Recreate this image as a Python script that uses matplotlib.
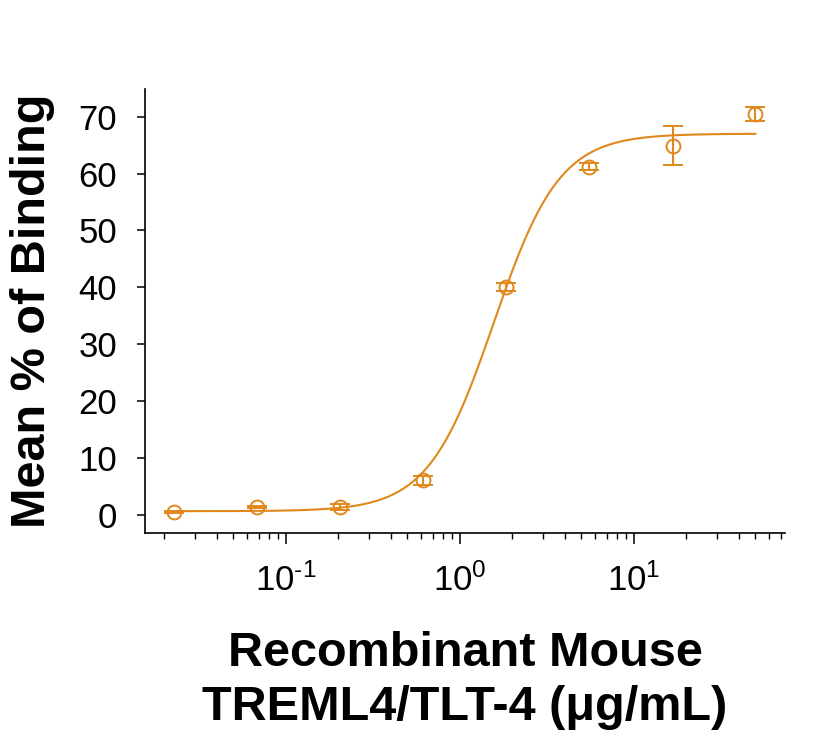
import numpy as np
import matplotlib
matplotlib.use("Agg")
import matplotlib.pyplot as plt
from matplotlib.ticker import LogLocator, FixedLocator, NullFormatter

plt.rcParams['font.family'] = ['Liberation Sans', 'DejaVu Sans']
plt.rcParams['mathtext.fontset'] = 'custom'
plt.rcParams['mathtext.rm'] = 'Liberation Sans'
plt.rcParams['mathtext.it'] = 'Liberation Sans'
plt.rcParams['mathtext.default'] = 'regular'

# data (3-fold dilution from 50 ug/mL)
conc = [0.0229, 0.0686, 0.206, 0.617, 1.85, 5.56, 16.7, 50.0]
binding = [0.5, 1.4, 1.3, 6.0, 40.1, 61.2, 64.9, 70.5]
err = [0.2, 0.2, 0.5, 0.8, 0.7, 0.6, 3.4, 1.2]
xtick_vals = [0.1, 1, 10]
xtick_labels = ['$10^{\u2010 1}$', '$10^{0}$', '$10^{1}$']

# 4PL fit parameters
bottom = 0.6
top = 67.0
ec50 = 1.57
hill = 2.3

color = '#E0881C'

fig = plt.figure(figsize=(8.23, 7.40), dpi=100)
ax = fig.add_axes([0.176, 0.280, 0.778, 0.600])

xs = np.logspace(np.log10(conc[0]), np.log10(conc[-1]), 300)
ys = bottom + (top - bottom) / (1 + (ec50 / xs) ** hill)
ax.plot(xs, ys, color=color, lw=1.5)

ax.errorbar(conc, binding, yerr=err, fmt='o', mfc='none', mec=color,
            ecolor=color, ms=10, mew=1.4, elinewidth=1.5, capsize=7, capthick=1.5)

ax.set_xscale('log')
ax.set_xlim(10 ** -1.81, 10 ** 1.87)
ax.set_ylim(-3.2, 74.9)

ax.xaxis.set_major_locator(FixedLocator(xtick_vals))
ax.set_xticklabels(xtick_labels)
ax.xaxis.set_minor_locator(LogLocator(base=10, subs=np.arange(2, 10)))
ax.xaxis.set_minor_formatter(NullFormatter())
ax.set_yticks(range(0, 80, 10))

for s in ['top', 'right']:
    ax.spines[s].set_visible(False)
for s in ['left', 'bottom']:
    ax.spines[s].set_linewidth(1.2)

ax.tick_params(axis='both', which='major', direction='out', labelsize=25, width=1.1)
ax.tick_params(axis='x', which='major', length=8, pad=14)
ax.tick_params(axis='x', which='minor', length=4, width=1.0)
ax.tick_params(axis='y', which='major', length=6, pad=14)

ax.set_ylabel('Mean % of Binding', fontsize=35, fontweight='bold', labelpad=17)
ax.set_xlabel('Recombinant Mouse\nTREML4/TLT-4 (\u03bcg/mL)', fontsize=35,
              fontweight='bold', labelpad=24, linespacing=1.25)

fig.savefig('out.png', dpi=100)
